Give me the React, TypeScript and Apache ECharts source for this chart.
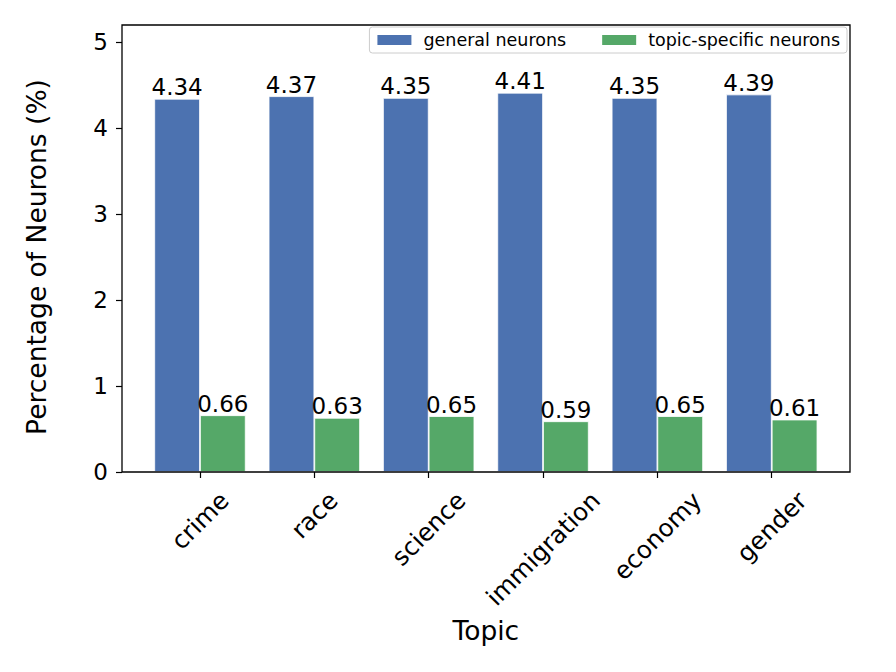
import React, { useEffect, useRef } from "react";
import * as echarts from "echarts";

const topics = ["crime", "race", "science", "immigration", "economy", "gender"];
const generalNeurons = [4.34, 4.37, 4.35, 4.41, 4.35, 4.39];
const topicSpecificNeurons = [0.66, 0.63, 0.65, 0.59, 0.65, 0.61];
const yTicks = [0, 1, 2, 3, 4, 5];
const seriesNames = ["general neurons", "topic-specific neurons"];

const FONT = '"DejaVu Sans", "Liberation Sans", sans-serif';
const XLABEL_SIZE = 24.5;

function measure(text: string, size: number): number {
  const c = document.createElement("canvas");
  const ctx = c.getContext("2d");
  if (!ctx) return text.length * size * 0.6;
  ctx.font = `${size}px "DejaVu Sans"`;
  return ctx.measureText(text).width;
}

export default function App() {
  const ref = useRef<HTMLDivElement>(null);
  useEffect(() => {
    if (!ref.current) return;
    const chart = echarts.init(ref.current, null, { renderer: "svg" });
    const frame = { left: 122, top: 25, right: 850, bottom: 472 };
    const option: any = {
      animation: false,
      backgroundColor: "#ffffff",
      textStyle: { fontFamily: FONT },
      grid: { left: 142.8, right: 67.1, top: 42, bottom: 200, containLabel: false },
      legend: {
        right: 49,
        top: 27,
        orient: "horizontal",
        icon: "rect",
        itemWidth: 36,
        itemHeight: 12,
        itemGap: 34,
        padding: [4, 7, 4, 6],
        borderColor: "#cccccc",
        borderWidth: 1,
        borderRadius: 3,
        backgroundColor: "rgba(255,255,255,0.85)",
        textStyle: { fontSize: 17.5, color: "#000", fontFamily: FONT, padding: [0, 0, 0, 6] },
        data: seriesNames,
      },
      xAxis: {
        type: "category",
        data: topics,
        boundaryGap: true,
        axisLine: { show: false },
        axisTick: { show: true, alignWithLabel: true, length: 6, lineStyle: { color: "#000", width: 1.2 } },
        axisLabel: { show: false },
        splitLine: { show: false },
        name: "Topic",
        nameLocation: "middle",
        nameGap: 145,
        nameTextStyle: { fontSize: 26.5, color: "#000", fontFamily: FONT },
      },
      yAxis: {
        type: "value",
        min: 0,
        max: 5,
        interval: 1,
        offset: 20.8,
        axisLine: { show: false },
        axisTick: { show: true, length: 6, lineStyle: { color: "#000", width: 1.2 } },
        axisLabel: {
          fontSize: 23,
          color: "#000",
          fontFamily: FONT,
          margin: 14,
          formatter: (v: number) => (yTicks.includes(v) ? String(v) : ""),
        },
        splitLine: { show: false },
        name: "Percentage of Neurons (%)",
        nameLocation: "middle",
        nameGap: 72,
        nameTextStyle: { fontSize: 26.5, color: "#000", fontFamily: FONT },
      },
      series: [
        {
          name: seriesNames[0],
          type: "bar",
          data: generalNeurons,
          barWidth: 45.7,
          barGap: "0%",
          itemStyle: { color: "#4c72b0", borderColor: "#ffffff", borderWidth: 0.8 },
          label: {
            show: true,
            position: "top",
            distance: 0,
            fontSize: 23,
            color: "#000",
            fontFamily: FONT,
            formatter: (p: any) => p.value.toFixed(2),
          },
        },
        {
          name: seriesNames[1],
          type: "bar",
          data: topicSpecificNeurons,
          barWidth: 45.7,
          barGap: "0%",
          itemStyle: { color: "#55a868", borderColor: "#ffffff", borderWidth: 0.8 },
          label: {
            show: true,
            position: "top",
            distance: 0,
            fontSize: 23,
            color: "#000",
            fontFamily: FONT,
            formatter: (p: any) => p.value.toFixed(2),
          },
        },
      ],
    };
    chart.setOption(option);

    const s = Math.SQRT1_2;
    const labelTop = 487;
    const H = XLABEL_SIZE * 1.05;
    const labels = topics.map((t) => {
      const px = chart.convertToPixel({ xAxisIndex: 0 }, t) as number;
      const w = measure(t, XLABEL_SIZE);
      const half = (w + H) * s / 2;
      return {
        type: "text",
        x: px,
        y: labelTop + half,
        rotation: Math.PI / 4,
        silent: true,
        style: {
          text: t,
          fontSize: XLABEL_SIZE,
          fontFamily: FONT,
          fill: "#000",
          align: "center",
          verticalAlign: "middle",
        },
      };
    });

    chart.setOption({
      graphic: [
        {
          type: "rect",
          shape: {
            x: frame.left,
            y: frame.top,
            width: frame.right - frame.left,
            height: frame.bottom - frame.top,
          },
          style: { fill: "none", stroke: "#000", lineWidth: 1.3 },
          silent: true,
          z: 10,
        },
        ...labels,
      ],
    });

    return () => chart.dispose();
  }, []);
  return (
    <div
      ref={ref}
      style={{ position: "fixed", left: 0, top: 0, width: 896, height: 672 }}
    />
  );
}
